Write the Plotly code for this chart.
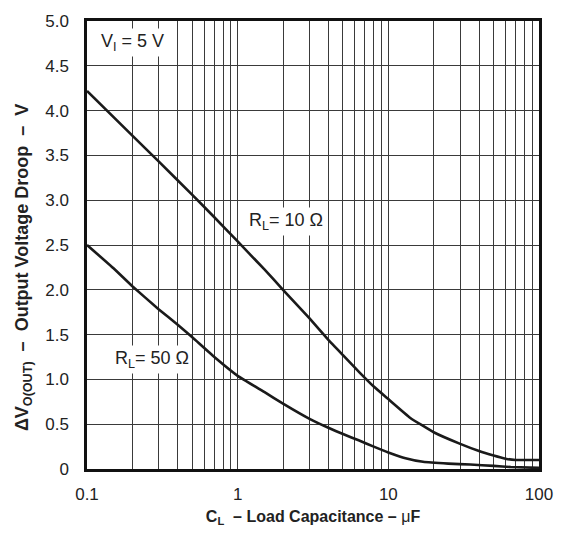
import plotly.graph_objects as go
import numpy as np

# Load capacitance (uF) and output voltage droop (V)
c_rl10 = [0.1, 0.2, 0.3, 0.5, 0.7, 1.0, 1.5, 2.0, 3.0, 4.0, 5.0, 6.5, 8.0, 10.0, 14.0, 20.0, 30.0, 40.0, 50.0, 60.0, 70.0, 85.0, 100.0]
v_rl10 = [4.22, 3.72, 3.43, 3.06, 2.81, 2.54, 2.23, 2.00, 1.68, 1.44, 1.27, 1.07, 0.92, 0.78, 0.57, 0.41, 0.28, 0.20, 0.15, 0.115, 0.10, 0.10, 0.10]

c_rl50 = [0.1, 0.15, 0.2, 0.3, 0.4, 0.5, 0.7, 1.0, 1.5, 2.0, 3.0, 4.0, 5.0, 6.35, 8.0, 10.0, 13.0, 17.0, 25.0, 35.0, 50.0, 65.0, 100.0]
v_rl50 = [2.50, 2.24, 2.04, 1.78, 1.61, 1.47, 1.25, 1.04, 0.86, 0.73, 0.56, 0.46, 0.39, 0.32, 0.25, 0.185, 0.12, 0.08, 0.06, 0.05, 0.035, 0.022, 0.012]

y_ticks = [0, 0.5, 1.0, 1.5, 2.0, 2.5, 3.0, 3.5, 4.0, 4.5, 5.0]
y_tick_text = ["0", "0.5", "1.0", "1.5", "2.0", "2.5", "3.0", "3.5", "4.0", "4.5", "5.0"]
x_ticks = [0.1, 1, 10, 100]
x_tick_text = ["0.1", "1", "10", "100"]

FONT = "Liberation Sans, Arial, Helvetica, sans-serif"
GRID = "#3a3a3a"
TXT = "#222"

fig = go.Figure()
for cx, vy in ((c_rl10, v_rl10), (c_rl50, v_rl50)):
    fig.add_trace(go.Scatter(x=cx, y=vy, mode="lines",
                             line=dict(color="#1a1a1a", width=2.6, shape="spline", smoothing=0.3),
                             showlegend=False, hoverinfo="skip"))

ann_font = dict(family=FONT, size=18, color=TXT)
fig.add_annotation(x=np.log10(0.2), y=4.76, text="V<sub>I</sub> = 5 V", showarrow=False, font=ann_font, bgcolor="white", borderpad=2)
fig.add_annotation(x=np.log10(2.1), y=2.76, text="R<sub>L</sub>= 10 Ω", showarrow=False, font=ann_font, bgcolor="white", borderpad=2)
fig.add_annotation(x=np.log10(0.27), y=1.22, text="R<sub>L</sub>= 50 Ω", showarrow=False, font=ann_font, bgcolor="white", borderpad=2)

# y-axis title as rotated annotation (placed like the reference)
fig.add_annotation(xref="paper", yref="paper", x=-0.14, y=0.45, xanchor="center", yanchor="middle",
                   text="<b>ΔV<sub>O(OUT)</sub>  –  Output Voltage Droop  –  V</b>", textangle=-90,
                   showarrow=False, font=dict(family=FONT, size=18, color=TXT))

fig.update_xaxes(
    type="log", range=[-1, 2],
    tickvals=x_ticks, ticktext=x_tick_text,
    ticks="", ticklabelstandoff=8,
    showgrid=True, gridcolor=GRID, gridwidth=1,
    minor=dict(showgrid=True, gridcolor=GRID, gridwidth=1, dtick="D1", ticks=""),
    showline=True, linecolor="#111", linewidth=2.5, mirror=True,
    tickfont=dict(family=FONT, size=17, color=TXT),
    title=dict(text="<b>C<sub>L</sub>  – Load Capacitance – </b>μ<b>F</b>", font=dict(family=FONT, size=16, color=TXT), standoff=8),
    zeroline=False,
)
fig.update_yaxes(
    range=[0, 5],
    tickvals=y_ticks, ticktext=y_tick_text,
    ticks="", ticklabelstandoff=12,
    showgrid=True, gridcolor=GRID, gridwidth=1,
    showline=True, linecolor="#111", linewidth=2.5, mirror=True,
    tickfont=dict(family=FONT, size=17, color=TXT),
    zeroline=False,
)
fig.update_layout(
    width=565, height=535,
    margin=dict(l=87, r=18, t=16, b=60),
    plot_bgcolor="white", paper_bgcolor="white",
    showlegend=False,
)
fig.write_html("out.html")
